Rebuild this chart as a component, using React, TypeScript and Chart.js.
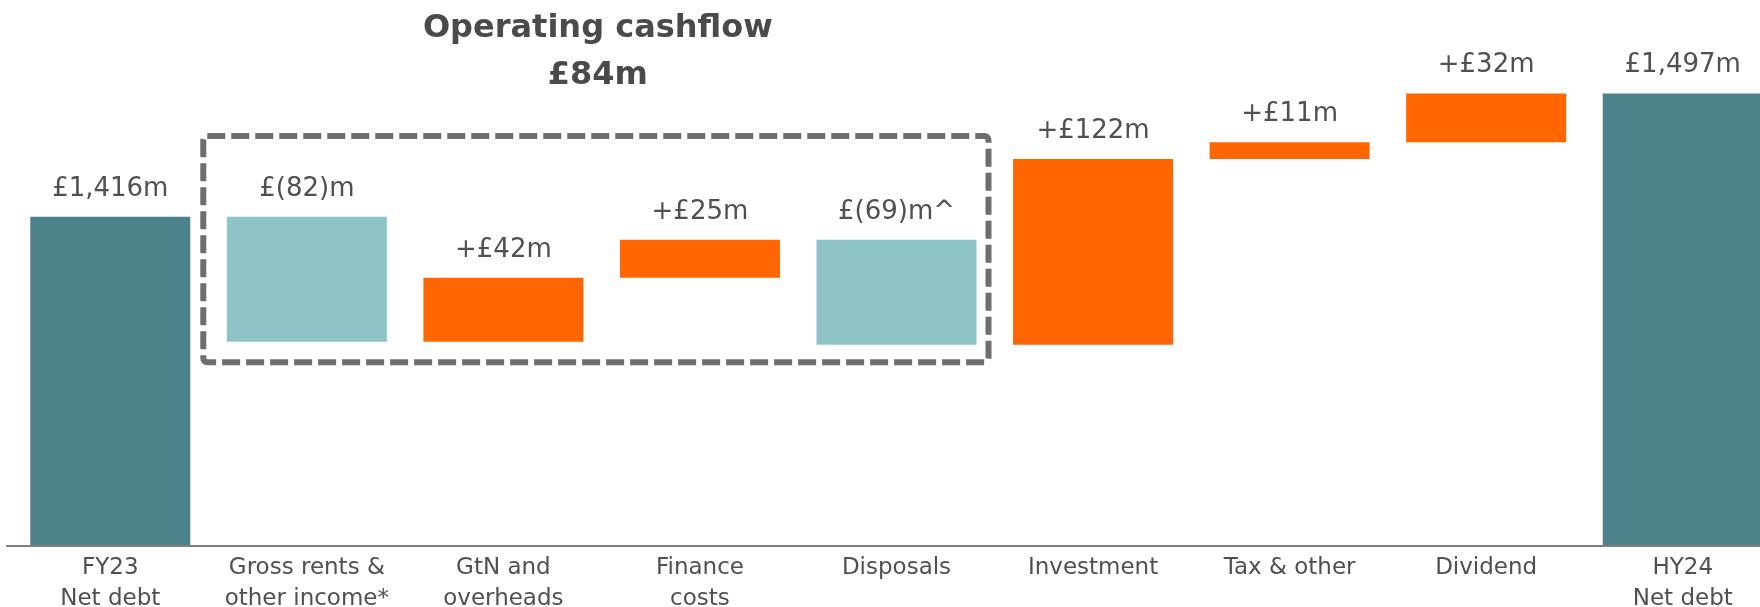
import React, { useEffect, useRef } from "react";
import { Chart, registerables } from "chart.js";

Chart.register(...registerables);

const categories: (string | string[])[] = [
  ["FY23", "Net debt"],
  ["Gross rents &", "other income*"],
  ["GtN and", "overheads"],
  ["Finance", "costs"],
  "Disposals",
  "Investment",
  "Tax & other",
  "Dividend",
  ["HY24", "Net debt"],
];

// first and last are totals, the rest are movements in net debt (£m)
const movements = [1416, -82, 42, 25, -69, 122, 11, 32, 1497];
const isTotal = [true, false, false, false, false, false, false, false, true];
const valueLabels = ["£1,416m", "£(82)m", "+£42m", "+£25m", "£(69)m^", "+£122m", "+£11m", "+£32m", "£1,497m"];
const boxTitle = ["Operating cashflow", "£84m"];

const AXIS_MIN = 1200;
const AXIS_MAX = 1555;

const TOTAL_COLOR = "#4C838A";
const DOWN_COLOR = "#8FC4C6";
const UP_COLOR = "#FF6600";
const TEXT_COLOR = "#505050";
const FONT = "'DejaVu Sans', sans-serif";

function buildRanges(): [number, number][] {
  const out: [number, number][] = [];
  let running = 0;
  movements.forEach((v, i) => {
    if (isTotal[i]) {
      out.push([AXIS_MIN, v]);
      running = v;
    } else {
      out.push([running, running + v]);
      running += v;
    }
  });
  return out;
}

export default function App() {
  const ref = useRef<HTMLCanvasElement | null>(null);

  useEffect(() => {
    if (!ref.current) return;
    const ranges = buildRanges();
    const colors = movements.map((v, i) => (isTotal[i] ? TOTAL_COLOR : v < 0 ? DOWN_COLOR : UP_COLOR));

    const overlay = {
      id: "overlay",
      afterDatasetsDraw(chart: any) {
        const ctx = chart.ctx;
        const meta = chart.getDatasetMeta(0);
        const xs = chart.scales.x;
        const ys = chart.scales.y;
        ctx.save();

        // baseline across the full width
        ctx.strokeStyle = "#808080";
        ctx.lineWidth = 2;
        ctx.beginPath();
        ctx.moveTo(6, chart.chartArea.bottom);
        ctx.lineTo(chart.width, chart.chartArea.bottom);
        ctx.stroke();

        ctx.fillStyle = TEXT_COLOR;
        ctx.font = `normal 26px ${FONT}`;
        ctx.textAlign = "center";
        ctx.textBaseline = "alphabetic";
        meta.data.forEach((bar: any, i: number) => {
          const top = Math.min(bar.y, bar.base);
          ctx.fillText(valueLabels[i], bar.x, top - 21);
        });

        // dashed box around operating items
        const left = xs.getPixelForValue(0) + 93;
        const right = xs.getPixelForValue(4) + 92;
        const top = ys.getPixelForValue(1469);
        const bottom = ys.getPixelForValue(1320.6);
        ctx.strokeStyle = "#6E6E6E";
        ctx.lineWidth = 6;
        ctx.setLineDash([18, 6]);
        ctx.beginPath();
        ctx.roundRect(left, top, right - left, bottom - top, 4);
        ctx.stroke();
        ctx.setLineDash([]);

        const cx = (left + right) / 2 + 2;
        ctx.font = `bold 32px ${FONT}`;
        ctx.fillStyle = "#4A4A4A";
        ctx.fillText(boxTitle[0], cx, 37);
        ctx.fillText(boxTitle[1], cx, 84);
        ctx.restore();
      },
    };

    const chart = new Chart(ref.current, {
      type: "bar",
      data: {
        labels: categories,
        datasets: [
          {
            data: ranges as any,
            backgroundColor: colors,
            borderWidth: 0,
            barPercentage: 0.814,
            categoryPercentage: 1,
          },
        ],
      },
      options: {
        responsive: false,
        animation: false,
        devicePixelRatio: 1,
        layout: { padding: { left: 12, right: 9, top: 5, bottom: 0 } },
        plugins: { legend: { display: false }, tooltip: { enabled: false } },
        scales: {
          y: { display: false, min: AXIS_MIN, max: AXIS_MAX },
          x: {
            grid: { display: false, drawTicks: false },
            border: { display: false },
            ticks: {
              color: TEXT_COLOR,
              font: { family: FONT, size: 23, weight: "normal" as any, lineHeight: 1.33 },
              padding: 7,
              maxRotation: 0,
              autoSkip: false,
            },
            afterFit(scale: any) {
              scale.height = 61;
            },
          },
        },
      },
      plugins: [overlay],
    });
    return () => chart.destroy();
  }, []);

  return (
    <div style={{ position: "fixed", left: 0, top: 0, width: 1760, height: 607, overflow: "hidden", background: "#fff" }}>
      <canvas ref={ref} width={1790} height={607} style={{ display: "block" }} />
    </div>
  );
}
